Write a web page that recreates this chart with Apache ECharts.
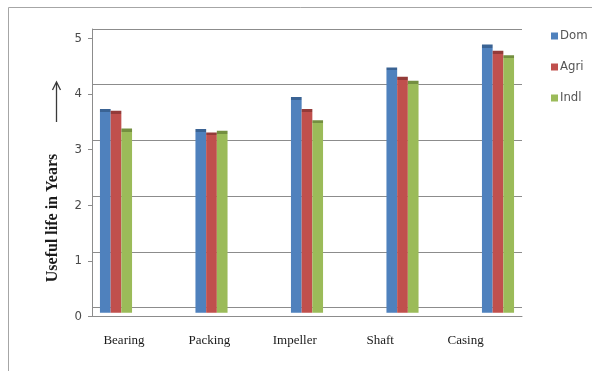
<!DOCTYPE html>
<html>
<head>
<meta charset="utf-8">
<script src="https://cdn.jsdelivr.net/npm/echarts@6/dist/echarts.min.js"></script>
<style>
  html, body { margin: 0; padding: 0; background: #fff; }
  #chart { width: 592px; height: 371px; }
</style>
</head>
<body>
<div id="chart"></div>
<script>
// Useful life (years) of pump parts by usage type
const categories = ['Bearing', 'Packing', 'Impeller', 'Shaft', 'Casing'];
const domLife  = [3.73, 3.37, 3.95, 4.48, 4.89];
const agriLife = [3.70, 3.31, 3.73, 4.31, 4.78];
const indlLife = [3.38, 3.34, 3.53, 4.24, 4.70];
const yTicks = [0, 1, 2, 3, 4, 5];

const seriesDefs = [
  { name: 'Dom',  data: domLife,  base: '#4F81BD', cap: '#3A6394' },
  { name: 'Agri', data: agriLife, base: '#C0504D', cap: '#943B39' },
  { name: 'Indl', data: indlLife, base: '#9BBB59', cap: '#748F40' }
];

// bar plot frame (front faces of the columns)
const barTop = 38.5, barBottom = 312.7, barMin = 0.068, barMax = 5;
const pxPerUnit = (barBottom - barTop) / (barMax - barMin);
const capPx = 3;

function capGradient(base, cap, value) {
  const h = Math.max((value - barMin) * pxPerUnit, capPx + 1);
  const s = capPx / h;
  return {
    type: 'linear', x: 0, y: 0, x2: 0, y2: 1,
    colorStops: [
      { offset: 0, color: cap }, { offset: s, color: cap },
      { offset: s, color: base }, { offset: 1, color: base }
    ]
  };
}

const chart = echarts.init(document.getElementById('chart'), null, { renderer: 'canvas' });

const numFont = "'DejaVu Sans Condensed', 'Liberation Sans Narrow', 'Liberation Sans', sans-serif";
const serifFont = "'Liberation Serif', 'DejaVu Serif', serif";

chart.setOption({
  animation: false,
  backgroundColor: '#fff',
  grid: [
    // back wall with gridlines
    { left: 92, top: 29, width: 430, height: 307.7 - 29 },
    // front value scale
    { left: 92, top: 38.5, width: 430, height: 316.5 - 38.5 },
    // category labels
    { left: 81.3, top: 38.5, width: 427, height: 316.5 - 38.5 },
    // columns
    { left: 68.25, top: barTop, width: 477.5, height: barBottom - barTop }
  ],
  xAxis: [
    { gridIndex: 0, type: 'category', data: categories, show: false },
    { gridIndex: 1, type: 'category', data: categories,
      axisLine: { show: true, lineStyle: { color: '#8c8c8c', width: 1 } },
      axisTick: { show: false }, axisLabel: { show: false } },
    { gridIndex: 2, type: 'category', data: categories,
      axisLine: { show: false }, axisTick: { show: false },
      axisLabel: { margin: 18, fontFamily: serifFont, fontSize: 13, color: '#1a1a1a' } },
    { gridIndex: 3, type: 'category', data: categories, show: false }
  ],
  yAxis: [
    { gridIndex: 0, type: 'value', min: yTicks[0], max: yTicks[yTicks.length - 1], interval: 1,
      axisLabel: { show: false }, axisTick: { show: false },
      axisLine: { show: true, lineStyle: { color: '#8c8c8c', width: 1 } },
      splitLine: { show: true, lineStyle: { color: '#8c8c8c', width: 1 } } },
    { gridIndex: 1, type: 'value', min: yTicks[0], max: yTicks[yTicks.length - 1], interval: 1,
      axisLine: { show: true, lineStyle: { color: '#8c8c8c', width: 1 } },
      axisTick: { show: true, length: 4, lineStyle: { color: '#8c8c8c' } },
      axisLabel: { margin: 10, fontFamily: numFont, fontSize: 13, color: '#4a4a4a' },
      splitLine: { show: false } },
    { gridIndex: 2, type: 'value', min: 0, max: 5, show: false },
    { gridIndex: 3, type: 'value', min: barMin, max: barMax, show: false }
  ],
  legend: {
    orient: 'vertical',
    left: 551, top: 29,
    padding: 0,
    itemWidth: 7, itemHeight: 7, itemGap: 17,
    icon: 'rect',
    textStyle: { fontFamily: numFont, fontSize: 13, color: '#555', lineHeight: 14, padding: [0, 0, 0, -3] },
    data: seriesDefs.map(d => ({ name: d.name, itemStyle: { color: d.base } }))
  },
  series: seriesDefs.map(d => ({
    name: d.name,
    type: 'bar',
    xAxisIndex: 3, yAxisIndex: 3,
    barWidth: 10.7,
    barGap: '0%',
    data: d.data,
    itemStyle: {
      color: p => capGradient(d.base, d.cap, p.value)
    }
  })),
  graphic: [
    // outer frame
    { type: 'rect', shape: { x: 8.5, y: 7.5, width: 700, height: 500 },
      style: { fill: 'none', stroke: '#a6a6a6', lineWidth: 1 }, silent: true },
    // axis title
    { type: 'text', x: 53, y: 218, rotation: Math.PI / 2,
      style: { text: 'Useful life in Years', font: "bold 16px 'Liberation Serif', serif",
               fill: '#1a1a1a', align: 'center', verticalAlign: 'middle' } },
    // upward arrow beside the title
    { type: 'line', shape: { x1: 56.5, y1: 122, x2: 56.5, y2: 83 },
      style: { stroke: '#3a3a3a', lineWidth: 1.3 } },
    { type: 'polyline', shape: { points: [[52.5, 90], [56.5, 82], [60.5, 90]] },
      style: { stroke: '#3a3a3a', lineWidth: 1.3, fill: 'none' } }
  ]
});
</script>
</body>
</html>
